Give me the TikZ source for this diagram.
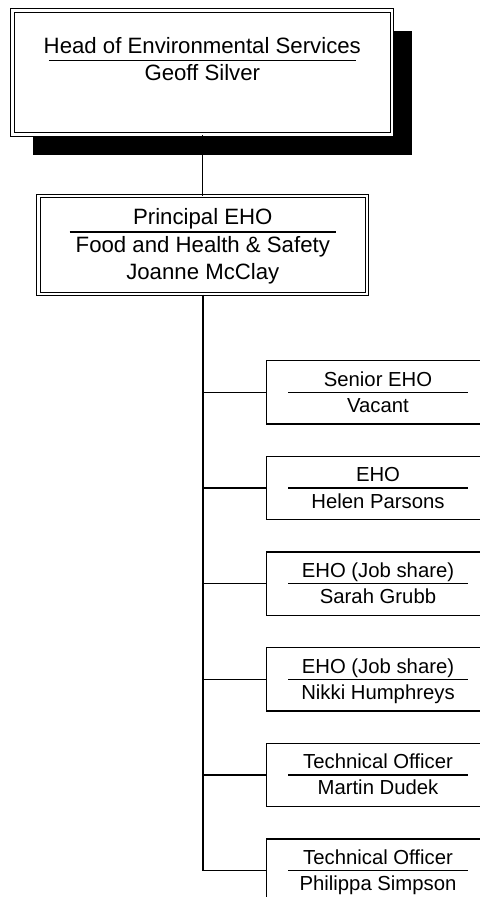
\documentclass[tikz,border=0pt]{standalone}
\usepackage{fontspec}
\setmainfont{Liberation Sans}
\usetikzlibrary{calc,positioning,shadows}
\tikzset{
  doublebox/.style={draw,line width=0.5pt,double,double distance=1.25pt,fill=white,inner sep=0pt},
  postbox/.style={draw,line width=0.65pt,fill=white,inner sep=0pt,
    minimum width=111.3pt,minimum height=31.65pt},
  bigtext/.style={font=\fontsize{11.1}{13}\selectfont,anchor=base,inner sep=0pt},
  smalltext/.style={font=\fontsize{10.15}{12}\selectfont,anchor=base,inner sep=0pt},
  rulerline/.style={line width=0.6pt},
  trunk/.style={line width=1pt},
  branch/.style={line width=0.65pt}
}

\begin{document}
\begin{tikzpicture}[x=0.5pt,y=-0.5pt]
  \useasboundingbox (0,0) rectangle (480,897);
  \clip (0,0) rectangle (480,897);
  % head of service
  \node[doublebox,minimum width=189.6pt,minimum height=62.05pt,
    drop shadow={shadow xshift=10pt,shadow yshift=-10pt,fill=black,opacity=1}]
    (head) at (202.3,72.7) {};
  \node[bigtext] (head-title) at ($(head.center)+(0,-19.4)$) {Head of Environmental Services};
  \draw[rulerline] ($(head.center)+(-153.5,-12.4)$) -- ($(head.center)+(153.5,-12.4)$);
  \node[bigtext] (head-name) at ($(head.center)+(0,8)$) {Geoff Silver};
  % principal EHO
  \node[doublebox,minimum width=164.3pt,minimum height=48.98pt] (princ) at (202.8,245.1) {};
  \node[bigtext] (princ-title) at ($(princ.center)+(0,-20.1)$) {Principal EHO};
  \draw[rulerline] ($(princ.center)+(-133.2,-13.1)$) -- ($(princ.center)+(133.2,-13.1)$);
  \node[bigtext] (princ-area) at ($(princ.center)+(0,7.6)$) {Food and Health \& Safety};
  \node[bigtext] (princ-name) at ($(princ.center)+(0,34.2)$) {Joanne McClay};
  \draw[branch] (head.south) -- (head.south |- princ.north);
  % team
  \foreach \ttl/\who [count=\i] in {Senior EHO/Vacant, EHO/Helen Parsons,
      EHO (Job share)/Sarah Grubb, EHO (Job share)/Nikki Humphreys,
      Technical Officer/Martin Dudek, Technical Officer/Philippa Simpson}{
    \node[postbox] (post\i) at (378,{392.35+95.66*(\i-1)}) {};
    \node[smalltext] (post\i-title) at ($(post\i.center)+(0,-6.3)$) {\ttl};
    \draw[rulerline] ($(post\i.center)+(-90,0)$) -- ($(post\i.center)+(90,0)$);
    \node[smalltext] (post\i-name) at ($(post\i.center)+(0,20)$) {\who};
    \draw[branch] (princ.south |- post\i.west) -- (post\i.west);
  }
  \draw[trunk] (princ.south) -- (princ.south |- post6.west);
\end{tikzpicture}
\end{document}
